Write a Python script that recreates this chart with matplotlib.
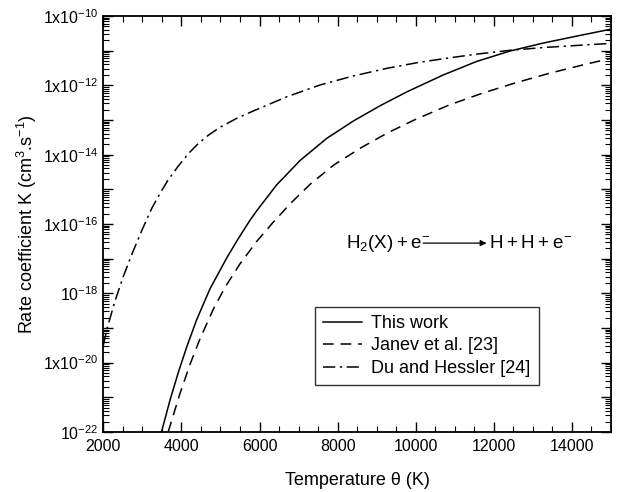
import numpy as np
import matplotlib
matplotlib.use('Agg')
import matplotlib.pyplot as plt
from matplotlib.ticker import MultipleLocator, LogLocator, NullFormatter

plt.rcParams['font.family'] = ['Liberation Sans', 'DejaVu Sans']
plt.rcParams['mathtext.default'] = 'regular'

# This work (log10 K vs temperature)
t_this = [3490, 3708, 3921, 4135, 4391, 4732, 5160, 5457, 5757, 5928, 6440, 7037,
          7721, 8402, 9086, 9770, 10707, 11562, 12415, 13268, 14123, 15000]
k_this = [-22.0, -21.08, -20.28, -19.55, -18.76, -17.87, -16.98, -16.42, -15.89, -15.62,
          -14.87, -14.17, -13.53, -13.03, -12.59, -12.19, -11.70, -11.31, -11.01,
          -10.78, -10.58, -10.38]

# Janev et al. [23]
t_janev = [3660, 3960, 4220, 4480, 4820, 5120, 5500, 5930, 6350, 6800, 7300, 7900,
           8600, 9300, 10000, 10850, 11700, 12550, 13400, 14250, 15000]
k_janev = [-22.0, -20.90, -20.05, -19.30, -18.45, -17.82, -17.15, -16.50, -15.95,
           -15.40, -14.85, -14.30, -13.80, -13.36, -12.98, -12.57, -12.23, -11.93,
           -11.66, -11.42, -11.22]

# Du and Hessler [24]
t_du = [2000, 2100, 2300, 2500, 2750, 3000, 3240, 3450, 3665, 3920, 4180, 4430, 4690,
        4990, 5420, 5840, 6700, 7550, 8400, 9260, 10070, 10850, 11560, 12415, 13270,
        14120, 15000]
k_du = [-19.5, -19.0, -18.22, -17.55, -16.82, -16.15, -15.55, -15.12, -14.72, -14.33,
        -13.97, -13.68, -13.44, -13.21, -12.95, -12.74, -12.33, -11.99, -11.73, -11.51,
        -11.34, -11.21, -11.10, -10.99, -10.91, -10.85, -10.79]

y_ticks = [-22, -20, -18, -16, -14, -12, -10]
y_labels = ['$10^{-22}$', '$1x10^{-20}$', '$10^{-18}$', '$1x10^{-16}$',
            '$1x10^{-14}$', '$1x10^{-12}$', '$1x10^{-10}$']

fig = plt.figure(figsize=(6.25, 4.92), dpi=100)
ax = fig.add_axes([0.1653, 0.1220, 0.8123, 0.8455])

ax.plot(t_this, 10.0 ** np.array(k_this), color='black', lw=1.1, ls='-', label='This work')
ax.plot(t_janev, 10.0 ** np.array(k_janev), color='black', lw=1.1, ls=(0, (7, 4.5)),
        label='Janev et al. [23]')
ax.plot(t_du, 10.0 ** np.array(k_du), color='black', lw=1.1, ls=(0, (8, 3, 1.5, 3)),
        label='Du and Hessler [24]')

ax.set_yscale('log')
ax.set_xlim(2000, 15000)
ax.set_ylim(1e-22, 1e-10)

# 坐标轴刻度
ax.yaxis.set_minor_locator(LogLocator(base=10, subs=np.arange(2, 10), numticks=20))
ax.yaxis.set_minor_formatter(NullFormatter())
ax.set_yticks([10.0 ** e for e in range(-22, -9)])
ax.set_yticklabels([y_labels[y_ticks.index(e)] if e in y_ticks else '' for e in range(-22, -9)])
ax.xaxis.set_major_locator(MultipleLocator(2000))
ax.xaxis.set_minor_locator(MultipleLocator(500))

ax.tick_params(which='both', direction='in', top=True, right=True, labelsize=11.5)
ax.tick_params(which='major', length=7, width=1)
ax.tick_params(which='minor', length=4, width=0.8)
ax.tick_params(axis='x', pad=5)
for s in ax.spines.values():
    s.set_linewidth(1.3)

ax.set_xlabel('Temperature θ (K)', fontsize=13, labelpad=13)
ax.set_ylabel('Rate coefficient K (cm$^{3}$.s$^{-1}$)', fontsize=13, labelpad=3)

# 反应式注释
ax.text(0.478, 0.454, '$H_{2}(X) + e^{-}$', transform=ax.transAxes, fontsize=13.5,
        ha='left', va='center')
ax.text(0.760, 0.454, '$H + H + e^{-}$', transform=ax.transAxes, fontsize=13.5,
        ha='left', va='center')
ax.annotate('', xy=(0.755, 0.454), xytext=(0.630, 0.454), xycoords='axes fraction',
            arrowprops=dict(arrowstyle='-|>', color='black', lw=0.9, mutation_scale=9,
                            shrinkA=0, shrinkB=0))

leg = ax.legend(loc='lower left', bbox_to_anchor=(0.416, 0.113), fontsize=13,
                frameon=True, fancybox=False, edgecolor='black', handlelength=2.2,
                handletextpad=0.5, borderpad=0.45, labelspacing=0.3, borderaxespad=0)
leg.get_frame().set_linewidth(1.0)

fig.savefig('out.png', dpi=100)
